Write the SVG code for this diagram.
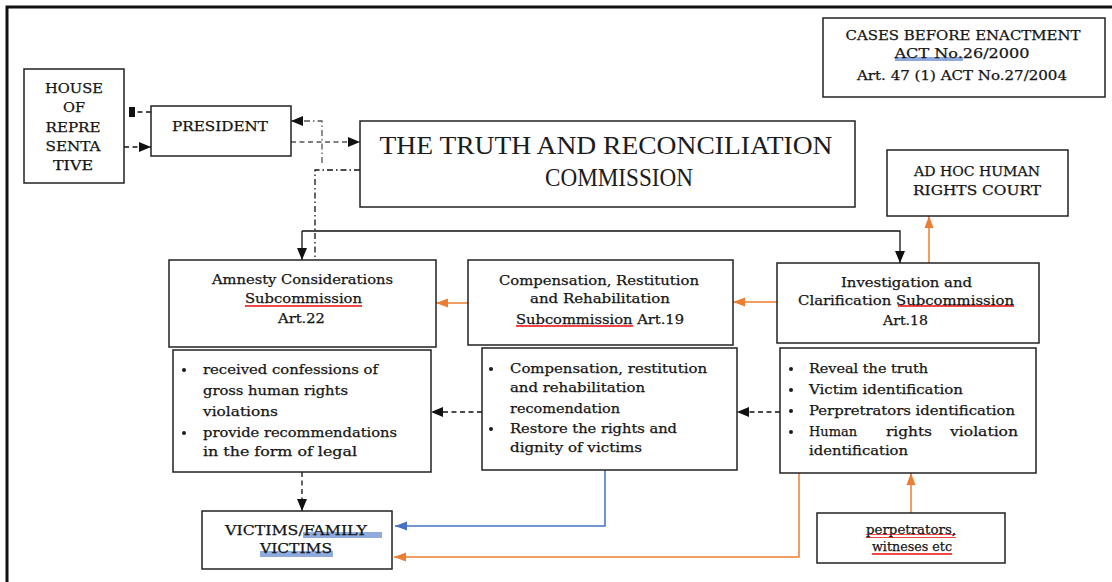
<svg xmlns="http://www.w3.org/2000/svg" width="1112" height="582" viewBox="0 0 1112 582">
<defs>
<style>
.box{fill:#fff;stroke:#222;stroke-width:1.5}
.t{font-family:"DejaVu Serif","Liberation Serif",serif;font-size:13px;fill:#151515;stroke:#151515;stroke-width:0.25}
.c{text-anchor:middle}
.big{font-family:"Liberation Serif","Times New Roman",serif;font-size:25px;fill:#1c1c1c;text-anchor:middle}
.blk{fill:none;stroke:#111;stroke-width:1.3}
.dash{stroke-dasharray:5,3.5}
.dd{stroke-dasharray:6,3,1.5,3}
.gray{stroke:#555}
.org{fill:none;stroke:#ED7D31;stroke-width:1.5}
.blu{fill:none;stroke:#4472C4;stroke-width:1.5}
.hl{fill:#4472C4;opacity:0.6}
</style>
<marker id="ab" markerUnits="userSpaceOnUse" markerWidth="12" markerHeight="12" viewBox="0 0 12 12" refX="12" refY="6" orient="auto"><path d="M0,1 L12,6 L0,11 Z" fill="#111"/></marker>
<marker id="ao" markerUnits="userSpaceOnUse" markerWidth="12" markerHeight="12" viewBox="0 0 12 12" refX="12" refY="6" orient="auto"><path d="M0,1.5 L12,6 L0,10.5 Z" fill="#ED7D31"/></marker>
<marker id="abl" markerUnits="userSpaceOnUse" markerWidth="12" markerHeight="12" viewBox="0 0 12 12" refX="12" refY="6" orient="auto"><path d="M0,1.5 L12,6 L0,10.5 Z" fill="#4472C4"/></marker>
<marker id="blk" markerUnits="userSpaceOnUse" markerWidth="6" markerHeight="12" viewBox="0 0 6 12" refX="6" refY="6" orient="auto"><path d="M0,1 L6,1 L6,11 L0,11 Z" fill="#111"/></marker>
<pattern id="wave" patternUnits="userSpaceOnUse" width="4" height="4"><path d="M0,3 L1,1 L2,3 L3,1 L4,3" fill="none" stroke="#e00" stroke-width="0.9"/></pattern>
</defs>
<rect width="1112" height="582" fill="#fff"/>
<path d="M7,582 V7 H1112" fill="none" stroke="#111" stroke-width="3"/>

<g id="connectors">
<path class="blk dash" d="M151,112 H129" marker-end="url(#blk)"/>
<path class="blk dash" d="M124,147 H151" marker-end="url(#ab)"/>
<path class="blk dd gray" d="M322,163 V121 H291" marker-end="url(#ab)"/>
<path class="blk dash gray" d="M291,142 H360" marker-end="url(#ab)"/>
<path class="blk dd" d="M360,170 H315 V260"/>
<path class="blk" d="M302,231 H900 V263" marker-end="url(#ab)"/>
<path class="blk" d="M302,231 V260" marker-end="url(#ab)"/>
<path class="org" d="M929,263 V216" marker-end="url(#ao)"/>
<path class="org" d="M777,302 H733" marker-end="url(#ao)"/>
<path class="org" d="M468,303 H436" marker-end="url(#ao)"/>
<path class="blk dash" d="M780,412 H737" marker-end="url(#ab)"/>
<path class="blk dash" d="M482,412 H431" marker-end="url(#ab)"/>
<path class="blk dash" d="M302,472 V511" marker-end="url(#ab)"/>
<path class="blu" d="M605,470 V526 H395" marker-end="url(#abl)"/>
<path class="org" d="M799,473 V557 H394" marker-end="url(#ao)"/>
<path class="org" d="M911,513 V473" marker-end="url(#ao)"/>
</g>

<g id="house">
<rect class="box" x="24" y="69" width="100" height="114"/>
<text class="t c" x="74" y="93" textLength="58" lengthAdjust="spacingAndGlyphs">HOUSE</text>
<text class="t c" x="74" y="112" textLength="22" lengthAdjust="spacingAndGlyphs">OF</text>
<text class="t c" x="73" y="132" textLength="55" lengthAdjust="spacingAndGlyphs">REPRE</text>
<text class="t c" x="73" y="151" textLength="55" lengthAdjust="spacingAndGlyphs">SENTA</text>
<text class="t c" x="73" y="170" textLength="40" lengthAdjust="spacingAndGlyphs">TIVE</text>
</g>

<g id="president">
<rect class="box" x="151" y="106" width="140" height="50"/>
<text class="t c" x="220" y="131" textLength="96" lengthAdjust="spacingAndGlyphs">PRESIDENT</text>
</g>

<g id="trc">
<rect class="box" x="360" y="121" width="495" height="86"/>
<text class="big" x="606" y="154" textLength="453" lengthAdjust="spacingAndGlyphs">THE TRUTH AND RECONCILIATION</text>
<text class="big" x="619" y="186" textLength="148" lengthAdjust="spacingAndGlyphs">COMMISSION</text>
</g>

<g id="cases">
<rect class="box" x="823" y="18" width="282" height="79"/>
<rect class="hl" x="895" y="57" width="68" height="4"/>
<text class="t c" x="963" y="40" textLength="235" lengthAdjust="spacingAndGlyphs">CASES BEFORE  ENACTMENT</text>
<text class="t c" x="962" y="58" textLength="135" lengthAdjust="spacingAndGlyphs">ACT  No.26/2000</text>
<text class="t c" x="962" y="80" textLength="210" lengthAdjust="spacingAndGlyphs">Art. 47 (1) ACT No.27/2004</text>
</g>

<g id="adhoc">
<rect class="box" x="887" y="150" width="181" height="66"/>
<text class="t c" x="977" y="176" textLength="126" lengthAdjust="spacingAndGlyphs">AD HOC HUMAN</text>
<text class="t c" x="977" y="195" textLength="128" lengthAdjust="spacingAndGlyphs">RIGHTS COURT</text>
</g>

<g id="amnesty">
<rect class="box" x="169" y="260" width="267" height="87"/>
<text class="t" x="212" y="284" textLength="181" lengthAdjust="spacingAndGlyphs">Amnesty  Considerations</text>
<rect fill="url(#wave)" x="245" y="303" width="117" height="4"/>
<text class="t" x="245" y="303" textLength="117" lengthAdjust="spacingAndGlyphs">Subcommission</text>
<text class="t" x="278" y="323" textLength="47" lengthAdjust="spacingAndGlyphs">Art.22</text>
</g>

<g id="compensation">
<rect class="box" x="468" y="260" width="265" height="85"/>
<text class="t" x="499" y="285" textLength="200" lengthAdjust="spacingAndGlyphs">Compensation,  Restitution</text>
<text class="t" x="530" y="303" textLength="140" lengthAdjust="spacingAndGlyphs">and Rehabilitation</text>
<rect fill="url(#wave)" x="516" y="324" width="117" height="4"/>
<text class="t" x="516" y="324" textLength="168" lengthAdjust="spacingAndGlyphs">Subcommission  Art.19</text>
</g>

<g id="investigation">
<rect class="box" x="777" y="263" width="262" height="80"/>
<text class="t" x="841" y="287" textLength="131" lengthAdjust="spacingAndGlyphs">Investigation and</text>
<rect fill="url(#wave)" x="898" y="305" width="116" height="4"/>
<text class="t" x="798" y="305" textLength="216" lengthAdjust="spacingAndGlyphs">Clarification Subcommission</text>
<text class="t" x="883" y="325" textLength="45" lengthAdjust="spacingAndGlyphs">Art.18</text>
</g>

<g id="amnesty-tasks">
<rect class="box" x="173" y="350" width="258" height="122"/>
<circle cx="184" cy="370" r="2" fill="#1c1c1c"/>
<circle cx="184" cy="433" r="2" fill="#1c1c1c"/>
<text class="t" x="203" y="374" textLength="175" lengthAdjust="spacingAndGlyphs">received  confessions  of</text>
<text class="t" x="203" y="395" textLength="145" lengthAdjust="spacingAndGlyphs">gross human rights</text>
<text class="t" x="203" y="416" textLength="75" lengthAdjust="spacingAndGlyphs">violations</text>
<text class="t" x="203" y="437" textLength="194" lengthAdjust="spacingAndGlyphs">provide recommendations</text>
<text class="t" x="203" y="456" textLength="154" lengthAdjust="spacingAndGlyphs">in the form of legal</text>
</g>

<g id="compensation-tasks">
<rect class="box" x="482" y="348" width="255" height="122"/>
<circle cx="491" cy="369" r="2" fill="#1c1c1c"/>
<circle cx="491" cy="429" r="2" fill="#1c1c1c"/>
<text class="t" x="510" y="373" textLength="197" lengthAdjust="spacingAndGlyphs">Compensation,  restitution</text>
<text class="t" x="510" y="392" textLength="135" lengthAdjust="spacingAndGlyphs">and rehabilitation</text>
<text class="t" x="510" y="413" textLength="110" lengthAdjust="spacingAndGlyphs">recomendation</text>
<text class="t" x="510" y="433" textLength="167" lengthAdjust="spacingAndGlyphs">Restore the rights and</text>
<text class="t" x="510" y="452" textLength="132" lengthAdjust="spacingAndGlyphs">dignity of victims</text>
</g>

<g id="investigation-tasks">
<rect class="box" x="780" y="348" width="256" height="125"/>
<circle cx="791" cy="369" r="2" fill="#1c1c1c"/>
<circle cx="791" cy="390" r="2" fill="#1c1c1c"/>
<circle cx="791" cy="411" r="2" fill="#1c1c1c"/>
<circle cx="791" cy="432" r="2" fill="#1c1c1c"/>
<text class="t" x="809" y="373" textLength="119" lengthAdjust="spacingAndGlyphs">Reveal the truth</text>
<text class="t" x="809" y="394" textLength="154" lengthAdjust="spacingAndGlyphs">Victim identification</text>
<text class="t" x="809" y="415" textLength="206" lengthAdjust="spacingAndGlyphs">Perpretrators identification</text>
<text class="t" y="436"><tspan x="809" textLength="48" lengthAdjust="spacingAndGlyphs">Human</tspan><tspan x="886" textLength="46" lengthAdjust="spacingAndGlyphs">rights</tspan><tspan x="950" textLength="68" lengthAdjust="spacingAndGlyphs">violation</tspan></text>
<text class="t" x="809" y="455" textLength="99" lengthAdjust="spacingAndGlyphs">identification</text>
</g>

<g id="victims">
<rect class="box" x="202" y="511" width="190" height="58"/>
<rect class="hl" x="303" y="532" width="79" height="6"/>
<rect class="hl" x="260" y="551" width="73" height="6"/>
<text class="t c" x="296" y="535" textLength="142" lengthAdjust="spacingAndGlyphs">VICTIMS/FAMILY</text>
<text class="t c" x="296" y="553" textLength="72" lengthAdjust="spacingAndGlyphs">VICTIMS</text>
</g>

<g id="perpetrators">
<rect class="box" x="817" y="513" width="188" height="50"/>
<rect fill="url(#wave)" x="866" y="534" width="90" height="4"/>
<rect fill="url(#wave)" x="872" y="551" width="80" height="4"/>
<text class="t" x="866" y="534" textLength="90" lengthAdjust="spacingAndGlyphs" font-size="11">perpetrators,</text>
<text class="t" x="872" y="551" textLength="80" lengthAdjust="spacingAndGlyphs" font-size="11">witneses etc</text>
</g>
</svg>
